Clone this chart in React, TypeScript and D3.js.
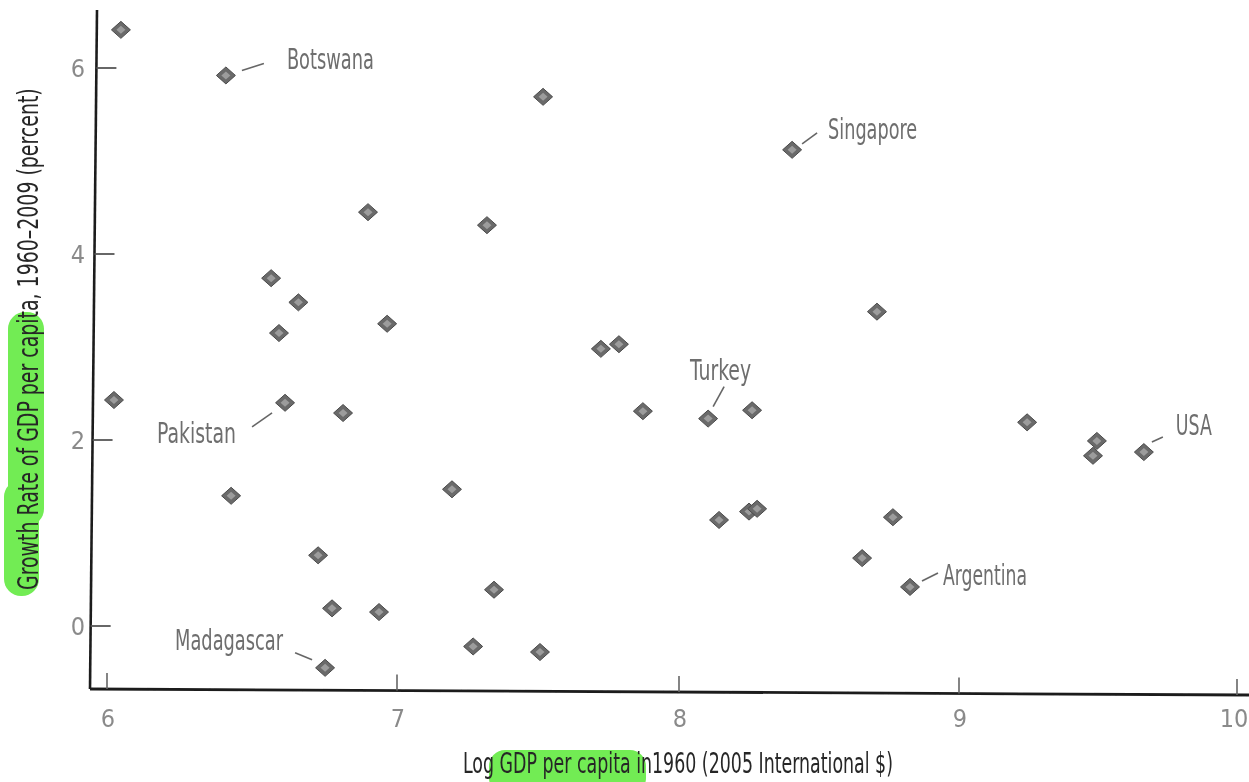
import React, { useLayoutEffect, useRef, useState } from "react";
import * as d3 from "d3";

// ---- data ----
const logGdp1960: number[] = [
  6.048, 6.41, 7.518, 8.404, 6.9, 7.319, 6.566, 6.66, 6.593, 6.966,
  8.707, 7.723, 7.787, 6.024, 6.614, 6.814, 7.872, 8.104, 8.261, 9.245,
  9.496, 9.482, 9.665, 6.428, 7.195, 8.143, 8.25, 8.279, 8.764, 6.728,
  8.654, 8.825, 6.776, 6.938, 7.344, 6.752, 7.27, 7.507,
];
const growthRate: number[] = [
  6.41, 5.92, 5.69, 5.12, 4.45, 4.31, 3.74, 3.48, 3.15, 3.25,
  3.38, 2.98, 3.03, 2.43, 2.4, 2.29, 2.31, 2.23, 2.32, 2.19,
  1.99, 1.83, 1.87, 1.4, 1.47, 1.14, 1.23, 1.26, 1.17, 0.76,
  0.73, 0.42, 0.19, 0.15, 0.39, -0.45, -0.22, -0.28,
];
const countryNames: string[] = [
  "", "Botswana", "", "Singapore", "", "", "", "", "", "",
  "", "", "", "", "Pakistan", "", "", "Turkey", "", "",
  "", "", "USA", "", "", "", "", "", "", "",
  "", "Argentina", "", "", "", "Madagascar", "", "",
];
const xTicks: number[] = [6, 7, 8, 9, 10];
const yTicks: number[] = [0, 2, 4, 6];
const xTitle = "Log GDP per capita in1960 (2005 International $)";
const yTitle = "Growth Rate of GDP per capita, 1960\u20132009 (percent)";

// ---- layout (annotation offsets relative to the marked point) ----
type Ann = { tx: number; ty: number; tw: number; l: [number, number, number, number] };
const annotations: Record<string, Ann> = {
  Botswana: { tx: 61, ty: -6, tw: 87, l: [16, -5, 38, -12] },
  Singapore: { tx: 36, ty: -11, tw: 89, l: [10, -6, 25, -17] },
  Pakistan: { tx: -128, ty: 40, tw: 79, l: [-33, 24, -13, 10] },
  Turkey: { tx: -18, ty: -39, tw: 61, l: [5, -12, 16, -32] },
  USA: { tx: 32, ty: -17, tw: 36, l: [8, -10, 19, -15] },
  Argentina: { tx: 33, ty: -2, tw: 84, l: [12, -6, 28, -14] },
  Madagascar: { tx: -150, ty: -18, tw: 108, l: [-30, -15, -13, -8] },
};

const FONT = "'Liberation Sans Narrow', 'DejaVu Sans Condensed', 'Roboto Condensed', sans-serif";

export default function App() {
  const W = 1249;
  const H = 782;
  const x = d3.scaleLinear().domain([6, 7, 8, 9, 10]).range([107, 397, 679, 959, 1237]);
  const y = d3.scaleLinear().domain([0, 6]).range([626, 68]);

  const yTitleRef = useRef<SVGTextElement | null>(null);
  const [yScaleX, setYScaleX] = useState(1);
  useLayoutEffect(() => {
    const el = yTitleRef.current;
    if (el) {
      const len = el.getComputedTextLength();
      if (len > 0) setYScaleX(502 / len);
    }
  }, []);

  const pts = logGdp1960.map((v, i) => ({ px: x(v), py: y(growthRate[i]), name: countryNames[i] }));
  const diamond = (s: number, h: number) => `M0,${-h}L${s},0L0,${h}L${-s},0Z`;

  // axis line endpoints (slight scan tilt)
  const axisBottomY = (px: number) => 689 + ((px - 90) / (1249 - 90)) * 6;

  return (
    <svg
      width={W}
      height={H}
      viewBox={`0 0 ${W} ${H}`}
      style={{ position: "absolute", left: 0, top: 0, background: "#fff", display: "block" }}
    >
      <defs>
        <filter id="soft" x="-20%" y="-20%" width="140%" height="140%">
          <feGaussianBlur stdDeviation="0.7" />
        </filter>
        <filter id="soft2" x="-5%" y="-20%" width="110%" height="140%">
          <feGaussianBlur stdDeviation="0.45" />
        </filter>
      </defs>
      <rect width={W} height={H} fill="#fff" />

      {/* highlights */}
      <g fill="#72ec54">
        <rect x={8} y={312} width={36} height={214} rx={17} />
        <rect x={4} y={480} width={35} height={116} rx={17} />
        <rect x={489} y={750} width={157} height={44} rx={16} />
      </g>

      {/* axes */}
      <g stroke="#1e1e1e" fill="none" filter="url(#soft2)">
        <path d={`M97,10L90,${axisBottomY(90)}`} strokeWidth={2.6} />
        <path d={`M90,${axisBottomY(90)}L1249,${axisBottomY(1249)}`} strokeWidth={2.8} />
        {yTicks.map((t) => {
          const ax = 97 - ((y(t) - 10) / (689 - 10)) * 7;
          return <path key={"yt" + t} d={`M${ax},${y(t)}L${ax + 20},${y(t)}`} strokeWidth={1.8} stroke="#555" />;
        })}
        {xTicks.map((t) => {
          const by = axisBottomY(x(t));
          return <path key={"xt" + t} d={`M${x(t)},${by}L${x(t)},${by - 16}`} strokeWidth={1.6} stroke="#666" />;
        })}
      </g>

      {/* tick labels */}
      <g fill="#8a8a8a" fontFamily={FONT} fontSize={25} filter="url(#soft2)">
        {yTicks.map((t) => (
          <text key={"yl" + t} x={78} y={y(t) + 9} textAnchor="middle">
            {t}
          </text>
        ))}
        {xTicks.map((t) => (
          <text key={"xl" + t} x={Math.min(x(t) + 1, 1234)} y={727} textAnchor="middle">
            {t}
          </text>
        ))}
      </g>

      {/* points */}
      <g filter="url(#soft)">
        {pts.map((p, i) => (
          <g key={"p" + i} transform={`translate(${p.px},${p.py})`}>
            <path d={diamond(9.5, 8.5)} fill="#6a6a6a" stroke="#4a4a4a" strokeWidth={1} />
            <path d={diamond(4.5, 4)} fill="#9c9c9c" />
          </g>
        ))}
      </g>

      {/* annotations */}
      <g fontFamily={FONT} fontSize={29} fill="#6e6e6e" filter="url(#soft2)">
        {pts
          .filter((p) => p.name)
          .map((p) => {
            const a = annotations[p.name];
            return (
              <g key={p.name}>
                <line
                  x1={p.px + a.l[0]}
                  y1={p.py + a.l[1]}
                  x2={p.px + a.l[2]}
                  y2={p.py + a.l[3]}
                  stroke="#666"
                  strokeWidth={1.6}
                />
                <text x={p.px + a.tx} y={p.py + a.ty} textLength={a.tw} lengthAdjust="spacingAndGlyphs">
                  {p.name}
                </text>
              </g>
            );
          })}
      </g>

      {/* axis titles */}
      <g fontFamily={FONT} fill="#262626" filter="url(#soft2)">
        <text x={463} y={773} fontSize={29} textLength={430} lengthAdjust="spacingAndGlyphs">
          {xTitle}
        </text>
        <text
          ref={yTitleRef}
          transform={`translate(38,590) rotate(-90) scale(${yScaleX},1)`}
          x={0}
          y={0}
          fontSize={29}
        >
          {yTitle}
        </text>
      </g>
    </svg>
  );
}
